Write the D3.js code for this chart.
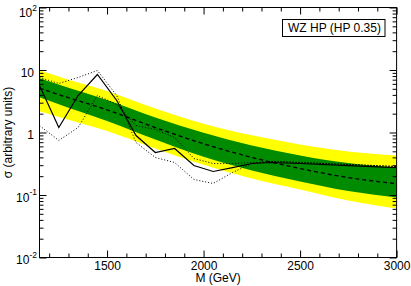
<!DOCTYPE html>
<html>
<head>
<meta charset="utf-8">
<script src="https://cdn.jsdelivr.net/npm/d3@7/dist/d3.min.js"></script>
<style>
  body { margin: 0; background: #fff; }
  svg { display: block; }
  text { font-family: "Liberation Sans", Arial, Helvetica, sans-serif; fill: #000; }
</style>
</head>
<body>
<div id="chart"></div>
<script>
var obsMass  = [1150, 1250, 1350, 1450, 1550, 1650, 1750, 1850, 1950, 2050, 2150, 2250, 2350, 2500, 2750, 3000];
var obsSolid = [5.65, 1.20, 3.91, 8.47, 3.25, 0.895, 0.479, 0.555, 0.296, 0.238, 0.275, 0.319, 0.331, 0.319, 0.296, 0.275];
var obsDotA  = [7.6, 6.08, 7.59, 9.82, 3.91, 0.692, 0.398, 0.331, 0.177, 0.153, 0.229, 0.319, 0.344, 0.331, 0.308, 0.286];
var obsDotB  = [1.29, 0.745, 1.20, 3.91, 2.81, 1.29, 1.12, 0.832, 0.384, 0.319, 0.319, 0.331, 0.344, 0.331, 0.308, 0.286];

// expected limit and bands
var bandMass  = [1150, 1300, 1500, 1750, 2000, 2250, 2500, 2750, 3000];
var expMedian = [5.1, 3.6, 2.3, 1.2, 0.66, 0.40, 0.265, 0.19, 0.152];
var expPlus2  = [9.9, 7.0, 4.63, 2.42, 1.38, 0.90, 0.643, 0.495, 0.427];
var expPlus1  = [7.36, 5.21, 3.32, 1.74, 0.99, 0.622, 0.4285, 0.324, 0.274];
var expMinus1 = [3.66, 2.49, 1.53, 0.773, 0.408, 0.2475, 0.164, 0.1154, 0.0909];
var expMinus2 = [2.18, 1.60, 1.06, 0.555, 0.304, 0.184, 0.1225, 0.0814, 0.0606];

var xTicks = [1500, 2000, 2500, 3000];
var yTicks = [0.01, 0.1, 1, 10, 100];
var yTickLabels = [['10', '-2'], ['10', '-1'], ['1', ''], ['10', ''], ['10', '2']];
var legendLabel = 'WZ HP (HP 0.35)';

var width = 411, height = 286;
var plotL = 39.5, plotR = 396.6, plotT = 7.5, plotB = 257.5;

var x = d3.scaleLinear().domain([1150, 3000]).range([plotL, plotR]);
var y = d3.scaleLog().domain([0.01, 100]).range([plotB, plotT]);

var svg = d3.select('#chart').append('svg')
  .attr('width', width)
  .attr('height', height);

svg.append('clipPath').attr('id', 'plot-clip')
  .append('rect')
  .attr('x', plotL).attr('y', plotT)
  .attr('width', plotR - plotL).attr('height', plotB - plotT);

var plot = svg.append('g').attr('clip-path', 'url(#plot-clip)');

function band(lo, hi) {
  return d3.area()
    .x(function (d, i) { return x(bandMass[i]); })
    .y0(function (d, i) { return y(lo[i]); })
    .y1(function (d, i) { return y(hi[i]); })
    .curve(d3.curveMonotoneX)(bandMass);
}

plot.append('path').attr('d', band(expMinus2, expPlus2)).attr('fill', '#ffff00');
plot.append('path').attr('d', band(expMinus1, expPlus1)).attr('fill', '#008b00');

var expLine = d3.line()
  .x(function (d, i) { return x(bandMass[i]); })
  .y(function (d) { return y(d); })
  .curve(d3.curveMonotoneX);

plot.append('path').attr('d', expLine(expMedian))
  .attr('fill', 'none').attr('stroke', '#000')
  .attr('stroke-width', 1.3).attr('stroke-dasharray', '4,3');

var obsLine = d3.line()
  .x(function (d, i) { return x(obsMass[i]); })
  .y(function (d) { return y(d); });

[obsDotA, obsDotB].forEach(function (s) {
  plot.append('path').attr('d', obsLine(s))
    .attr('fill', 'none').attr('stroke', '#000')
    .attr('stroke-width', 1).attr('stroke-dasharray', '1,2');
});

plot.append('path').attr('d', obsLine(obsSolid))
  .attr('fill', 'none').attr('stroke', '#000').attr('stroke-width', 1.2);

// minor ticks
var xMinor = d3.range(1200, 3000, 100).filter(function (v) { return v % 500 !== 0; });
var yMinor = [];
[0.01, 0.1, 1, 10].forEach(function (dec) {
  for (var k = 2; k <= 9; k++) yMinor.push(dec * k);
});

function noDomain(g) { g.select('.domain').remove(); }

// bottom axis
svg.append('g').attr('transform', 'translate(0,' + plotB + ')')
  .call(d3.axisBottom(x).tickValues(xMinor).tickSize(-4).tickFormat(''))
  .call(noDomain);
var xAx = svg.append('g').attr('transform', 'translate(0,' + plotB + ')')
  .call(d3.axisBottom(x).tickValues(xTicks).tickSize(-7).tickPadding(3.5).tickFormat(d3.format('d')))
  .call(noDomain);
xAx.attr('font-family', null).attr('font-size', 12);

// top axis
svg.append('g').attr('transform', 'translate(0,' + plotT + ')')
  .call(d3.axisTop(x).tickValues(xMinor).tickSize(-4).tickFormat(''))
  .call(noDomain);
svg.append('g').attr('transform', 'translate(0,' + plotT + ')')
  .call(d3.axisTop(x).tickValues(xTicks).tickSize(-7).tickFormat(''))
  .call(noDomain);

// left axis
svg.append('g').attr('transform', 'translate(' + plotL + ',0)')
  .call(d3.axisLeft(y).tickValues(yMinor).tickSize(-4).tickFormat(''))
  .call(noDomain);
var yAx = svg.append('g').attr('transform', 'translate(' + plotL + ',0)')
  .call(d3.axisLeft(y).tickValues(yTicks).tickSize(-7).tickFormat(''))
  .call(noDomain);
yAx.attr('font-family', null).attr('font-size', 12);

yAx.selectAll('.tick').each(function (d, i) {
  var lab = yTickLabels[i];
  d3.select(this).select('text').remove();
  var t = d3.select(this).append('text')
    .attr('text-anchor', 'end')
    .attr('x', lab[1] ? -2.5 : -5.5)
    .attr('dy', i === yTicks.length - 1 ? '0.75em' : '0.52em');
  t.append('tspan').text(lab[0]);
  if (lab[1]) {
    t.append('tspan').attr('font-size', 8.5).attr('dy', '-0.75em').text(lab[1]);
  }
});

// right axis
svg.append('g').attr('transform', 'translate(' + plotR + ',0)')
  .call(d3.axisRight(y).tickValues(yMinor).tickSize(-4).tickFormat(''))
  .call(noDomain);
svg.append('g').attr('transform', 'translate(' + plotR + ',0)')
  .call(d3.axisRight(y).tickValues(yTicks).tickSize(-7).tickFormat(''))
  .call(noDomain);

// frame
svg.append('rect')
  .attr('x', plotL).attr('y', plotT)
  .attr('width', plotR - plotL).attr('height', plotB - plotT)
  .attr('fill', 'none').attr('stroke', '#000').attr('stroke-width', 1);

// legend box
svg.append('rect')
  .attr('x', 282.5).attr('y', 19.5).attr('width', 102.5).attr('height', 17)
  .attr('fill', '#fff').attr('stroke', '#000').attr('stroke-width', 1);
svg.append('text')
  .attr('x', 288).attr('y', 32)
  .attr('font-size', 12)
  .text(legendLabel);

// axis titles
svg.append('text')
  .attr('x', (plotL + plotR) / 2).attr('y', 282)
  .attr('text-anchor', 'middle').attr('font-size', 12)
  .text('M (GeV)');

svg.append('text')
  .attr('transform', 'translate(12,' + ((plotT + plotB) / 2) + ') rotate(-90)')
  .attr('text-anchor', 'middle').attr('font-size', 12)
  .text('σ (arbitrary units)');
</script>
</body>
</html>
